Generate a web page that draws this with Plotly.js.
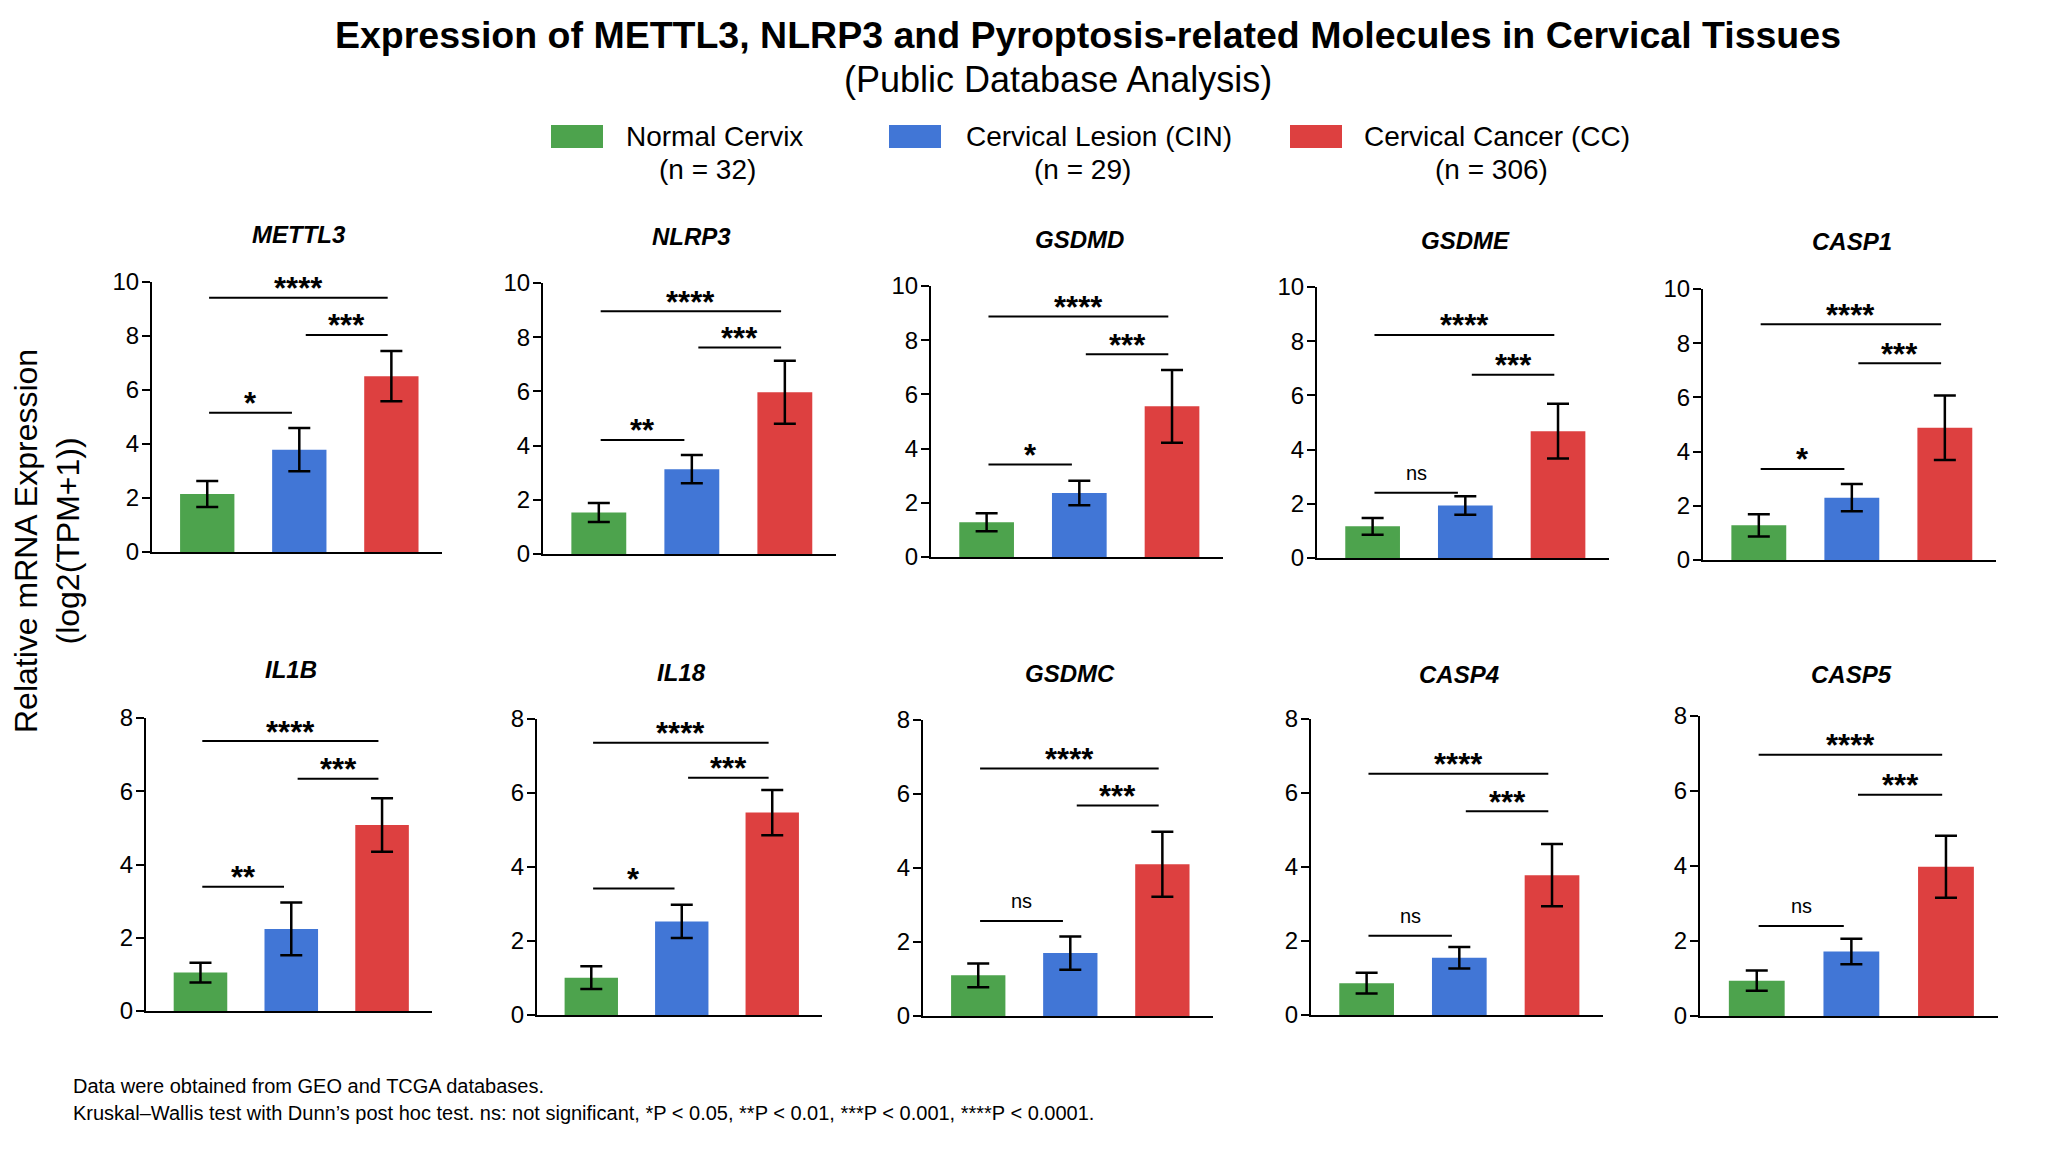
<!DOCTYPE html>
<html><head><meta charset="utf-8">
<script src="https://cdn.plot.ly/plotly-3.0.1.min.js"></script>
<style>html,body{margin:0;padding:0;background:#fff}#chart{width:2048px;height:1152px}</style>
</head><body><div id="chart"></div>
<script>
// ---------------- data ----------------
const genes = ['METTL3','NLRP3','GSDMD','GSDME','CASP1','IL1B','IL18','GSDMC','CASP4','CASP5'];
const groups = ['Normal Cervix','Cervical Lesion (CIN)','Cervical Cancer (CC)'];
const groupN = ['(n = 32)','(n = 29)','(n = 306)'];
const normalMean = [2.15,1.53,1.28,1.17,1.28,1.05,1.01,1.10,0.86,0.94];
const normalErr  = [0.48,0.35,0.33,0.31,0.41,0.27,0.31,0.32,0.28,0.27];
const cinMean    = [3.79,3.13,2.36,1.94,2.30,2.24,2.53,1.70,1.55,1.72];
const cinErr     = [0.80,0.52,0.45,0.34,0.50,0.72,0.45,0.45,0.29,0.34];
const ccMean     = [6.51,5.97,5.56,4.68,4.88,5.08,5.47,4.10,3.78,3.98];
const ccErr      = [0.93,1.16,1.34,1.01,1.19,0.73,0.61,0.88,0.84,0.83];
const yMax       = [10,10,10,10,10,8,8,8,8,8];
const sigNormalCin = ['*','**','*','ns','*','**','*','ns','ns','ns'];
const sigCinCc     = ['***','***','***','***','***','***','***','***','***','***'];
const sigNormalCc  = ['****','****','****','****','****','****','****','****','****','****'];
const hNormalCin = [5.16,4.21,3.41,2.41,3.36,3.39,3.42,2.57,2.14,2.40];
const hCinCc     = [8.04,7.62,7.48,6.76,7.26,6.34,6.41,5.69,5.51,5.90];
const hNormalCc  = [9.42,8.96,8.87,8.23,8.70,7.37,7.36,6.69,6.52,6.97];
const groupColors = ['#4DA34D','#4176D6','#DD4040'];

// ---------------- layout helpers ----------------
const W = 2048, H = 1152;
const FONT = 'Liberation Sans, Arial, Helvetica, sans-serif';
// panel boxes in px: [left(y-axis), right, top(max tick), bottom(0)]
const panelBox = [
  [152,442,282,552],[543,836,283,554],[931,1223,286,557],[1317,1609,287,558],[1703,1996,289,560],
  [146,432,718,1011],[537,822,719,1015],[923,1213,720,1016],[1311,1603,719,1015],[1700,1998,716,1016]
];
const titleY = [234,237,239,241,242,669,672,673,674,674];
const px = v => v / W, py = v => 1 - v / H;

const data = [];
const layout = {
  width: W, height: H,
  margin: {l:0, r:0, t:0, b:0},
  paper_bgcolor: '#ffffff', plot_bgcolor: 'rgba(0,0,0,0)',
  showlegend: false,
  font: {family: FONT, color: '#111'},
  shapes: [], annotations: []
};

genes.forEach((g, i) => {
  const n = i + 1;
  const xa = 'x' + (n === 1 ? '' : n), ya = 'y' + (n === 1 ? '' : n);
  const xk = 'xaxis' + (n === 1 ? '' : n), yk = 'yaxis' + (n === 1 ? '' : n);
  const b = panelBox[i];
  layout[xk] = {
    domain: [px(b[0]), px(b[1])], anchor: ya, range: [-0.6, 2.55],
    showline: true, linecolor: '#000', linewidth: 2, ticks: '', showticklabels: false,
    showgrid: false, zeroline: false, fixedrange: true
  };
  layout[yk] = {
    domain: [py(b[3]), py(b[2])], anchor: xa, range: [0, yMax[i]], dtick: 2, tick0: 0,
    showline: true, linecolor: '#000', linewidth: 2, ticks: 'outside', ticklen: 8, tickwidth: 2,
    tickcolor: '#000', tickfont: {size: 24, color: '#000', family: FONT}, ticklabelstandoff: -2,
    showgrid: false, zeroline: false, fixedrange: true
  };
  data.push({
    type: 'bar', xaxis: xa, yaxis: ya,
    x: [0, 1, 2], y: [normalMean[i], cinMean[i], ccMean[i]],
    width: 0.59,
    marker: {color: groupColors, line: {width: 0}},
    error_y: {type: 'data', array: [normalErr[i], cinErr[i], ccErr[i]], visible: true,
              color: '#000', thickness: 2.5, width: 11},
    hoverinfo: 'none', showlegend: false
  });
  // panel title
  layout.annotations.push({
    xref: xa, x: 1, yref: 'paper', y: py(titleY[i]), xanchor: 'center', yanchor: 'middle',
    text: g, showarrow: false,
    font: {size: 24, family: FONT, weight: 'bold', style: 'italic', color: '#000'}
  });
  // significance brackets
  const brackets = [
    [0, 1, hNormalCin[i], sigNormalCin[i]],
    [1, 2, hCinCc[i], sigCinCc[i]],
    [0, 2, hNormalCc[i], sigNormalCc[i]]
  ];
  brackets.forEach(([a, c, h, lab]) => {
    const x0 = a + (a === 0 ? 0.02 : 0.07);
    const x1 = c - (c === 2 ? 0.04 : 0.08);
    layout.shapes.push({type: 'line', xref: xa, yref: ya, x0: x0, x1: x1, y0: h, y1: h,
                        line: {color: '#000', width: 2}});
    const isNs = lab === 'ns';
    layout.annotations.push({
      xref: xa, yref: ya, x: (x0 + x1) / 2, y: h, xanchor: 'center', yanchor: 'middle',
      yshift: isNs ? 20 : 9, text: lab, showarrow: false,
      font: isNs ? {size: 20, family: FONT, color: '#000'}
                 : {size: 31, family: FONT, weight: 'bold', color: '#000'}
    });
  });
});

// main title & subtitle
layout.annotations.push({
  xref: 'paper', yref: 'paper', x: px(1088), y: py(35), xanchor: 'center', yanchor: 'middle',
  text: 'Expression of METTL3, NLRP3 and Pyroptosis-related Molecules in Cervical Tissues',
  showarrow: false, font: {size: 37.5, family: FONT, weight: 'bold', color: '#000'}
});
layout.annotations.push({
  xref: 'paper', yref: 'paper', x: px(1058), y: py(80), xanchor: 'center', yanchor: 'middle',
  text: '(Public Database Analysis)', showarrow: false,
  font: {size: 36, family: FONT, color: '#000'}
});

// custom legend
const legSq = [551, 889, 1290];
const legTx = [624, 964, 1362];
const legN  = [707, 1082, 1491];
groups.forEach((gname, k) => {
  layout.shapes.push({type: 'rect', xref: 'paper', yref: 'paper',
    x0: px(legSq[k]), x1: px(legSq[k] + 52), y0: py(148), y1: py(125),
    fillcolor: groupColors[k], line: {width: 0}});
  layout.annotations.push({xref: 'paper', yref: 'paper', x: px(legTx[k]), y: py(136),
    xanchor: 'left', yanchor: 'middle', text: gname, showarrow: false,
    font: {size: 28, family: FONT, color: '#000'}});
  layout.annotations.push({xref: 'paper', yref: 'paper', x: px(legN[k]), y: py(170),
    xanchor: 'center', yanchor: 'middle', text: groupN[k], showarrow: false,
    font: {size: 28, family: FONT, color: '#000'}});
});

// shared y-axis title
layout.annotations.push({
  xref: 'paper', yref: 'paper', x: px(47), y: py(541), xanchor: 'center', yanchor: 'middle',
  text: 'Relative mRNA Expression<br>(log2(TPM+1))', textangle: -90, showarrow: false,
  font: {size: 32, family: FONT, color: '#000'}
});

// footnotes
layout.annotations.push({
  xref: 'paper', yref: 'paper', x: px(71), y: py(1086), xanchor: 'left', yanchor: 'middle',
  text: 'Data were obtained from GEO and TCGA databases.', showarrow: false,
  font: {size: 20, family: FONT, color: '#000'}
});
layout.annotations.push({
  xref: 'paper', yref: 'paper', x: px(71), y: py(1113), xanchor: 'left', yanchor: 'middle',
  text: 'Kruskal\u2013Wallis test with Dunn\u2019s post hoc test. ns: not significant, *P &lt; 0.05, **P &lt; 0.01, ***P &lt; 0.001, ****P &lt; 0.0001.',
  showarrow: false, font: {size: 20, family: FONT, color: '#000'}
});

Plotly.newPlot('chart', data, layout, {displayModeBar: false, staticPlot: true});
</script>
</body></html>
